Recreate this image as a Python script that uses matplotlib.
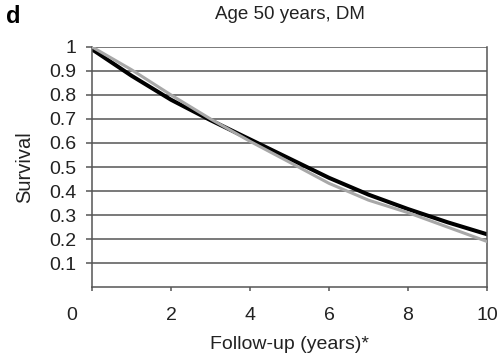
import matplotlib
matplotlib.use("Agg")
import matplotlib.pyplot as plt
import matplotlib.transforms as mtransforms

plt.rcParams['font.family'] = ['Liberation Sans', 'DejaVu Sans']

years = [0, 1, 2, 3, 4, 5, 6, 7, 8, 9, 10]
surv_black = [0.99, 0.88, 0.78, 0.695, 0.615, 0.535, 0.455, 0.385, 0.325, 0.27, 0.22]
surv_grey = [1.0, 0.905, 0.80, 0.70, 0.607, 0.52, 0.432, 0.362, 0.31, 0.25, 0.19]

x_ticks = [0, 2, 4, 6, 8, 10]
y_ticks = [0.1, 0.2, 0.3, 0.4, 0.5, 0.6, 0.7, 0.8, 0.9, 1.0]
y_labels = ['0.1', '0.2', '0.3', '0.4', '0.5', '0.6', '0.7', '0.8', '0.9', '1']

fig = plt.figure(figsize=(5, 3.58), dpi=100)
ax = fig.add_axes([0.184, 0.198, 0.79, 0.671])

grid_col = '#555555'
txt_col = '#222222'
for y in y_ticks:
    ax.axhline(y, color=grid_col, lw=1.1, zorder=1)

ax.plot(years, surv_grey, color='#a8a8a8', lw=2.2, zorder=3,
        solid_capstyle='round', solid_joinstyle='round')
ax.plot(years, surv_black, color='black', lw=2.9, zorder=2,
        solid_capstyle='round', solid_joinstyle='round')

ax.set_xlim(0, 10)
ax.set_ylim(0, 1)
ax.spines['top'].set_visible(False)
for s in ['left', 'right', 'bottom']:
    ax.spines[s].set_color(grid_col)
    ax.spines[s].set_linewidth(1.1)

ax.set_yticks(y_ticks)
ax.set_yticklabels(y_labels)
ax.set_xticks(x_ticks)
ax.tick_params(axis='y', length=4, width=1.1, color=grid_col, pad=7,
               labelsize=14, labelcolor=txt_col)
ax.tick_params(axis='x', length=3, width=1.1, color=grid_col, pad=11,
               labelsize=14, labelcolor=txt_col)

# zero label sits left of the origin
lbl0 = ax.get_xticklabels()[0]
lbl0.set_transform(lbl0.get_transform() +
                   mtransforms.ScaledTranslation(-20 / 100, 0, fig.dpi_scale_trans))

ax.set_title('Age 50 years, DM', fontsize=13.5, color=txt_col, pad=20)
ax.set_ylabel('Survival', fontsize=14.5, color=txt_col, labelpad=11)
ax.set_xlabel('Follow-up (years)*', fontsize=14, color=txt_col, labelpad=9)

fig.text(0.012, 0.985, 'd', fontsize=17, fontweight='bold', va='top', ha='left')

fig.savefig('out.png', dpi=100, facecolor='white')
